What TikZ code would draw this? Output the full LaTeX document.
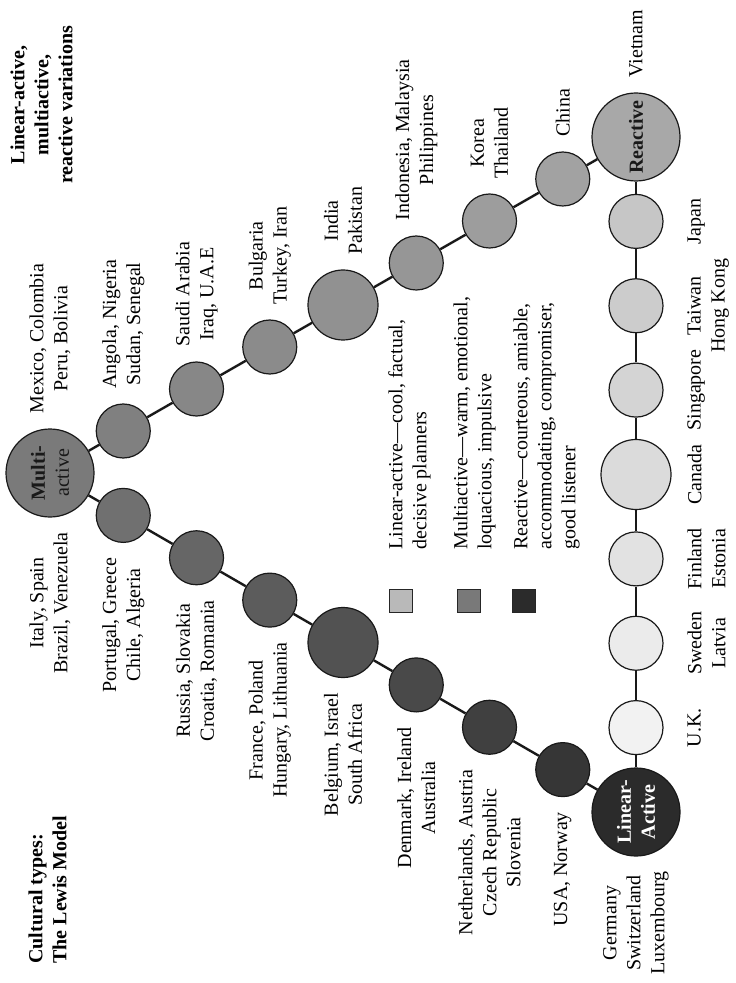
\documentclass[tikz,border=0pt]{standalone}
\usepackage{fontspec}
\setmainfont{Liberation Serif}
\tikzset{
  country/.style={
    circle, draw=black!90, line width=0.6pt,
    minimum size=27pt, inner sep=0pt
  },
  midcountry/.style={country, minimum size=35pt},
  hub/.style={
    country, minimum size=44pt, rotate=90,
    align=center, font=\bfseries, text=black!90
  },
  link/.style={line width=1.2pt, draw=black!90},
  upname/.style={rotate=90, anchor=west, align=center, inner sep=0pt},
  downname/.style={rotate=90, anchor=east, align=center, inner sep=0pt},
  sidename/.style={rotate=90, anchor=north, align=center, inner sep=0pt},
  keybox/.style={
    rectangle, draw=black!85, line width=0.5pt,
    minimum size=11.5pt, inner sep=0pt
  },
  keytext/.style={rotate=90, anchor=north west, align=left, inner sep=0pt},
  heading/.style={rotate=90, inner sep=0pt, font=\bfseries}
}

\begin{document}
\begin{tikzpicture}[x=0.5pt, y=-0.5pt]
  \useasboundingbox (0,0) rectangle (735,983);

  % the three types
  \node[hub, fill=black!52] (multi) at (50,473) {Multi-\\{\mdseries active}};
  \node[hub, fill=black!34] (react) at (636,137) {Reactive};
  \node[hub, fill=black!83, text=white] (linear) at (636,812) {Linear-\\Active};

  % multi-active to reactive
  \node[country, fill=black!50] (angola) at (123.25,431) {};
  \node[country, fill=black!47] (saudi) at (196.5,389) {};
  \node[country, fill=black!45.5] (bulgaria) at (269.75,347) {};
  \node[midcountry, fill=black!43] (india) at (343,305) {};
  \node[country, fill=black!41] (indonesia) at (416.25,263) {};
  \node[country, fill=black!38.5] (korea) at (489.5,221) {};
  \node[country, fill=black!36.5] (china) at (562.75,179) {};

  % multi-active to linear-active
  \node[country, fill=black!56] (portugal) at (123.25,515.4) {};
  \node[country, fill=black!60] (russia) at (196.5,557.75) {};
  \node[country, fill=black!64] (france) at (269.75,600.1) {};
  \node[midcountry, fill=black!68] (belgium) at (343,642.5) {};
  \node[country, fill=black!71.5] (denmark) at (416.25,684.9) {};
  \node[country, fill=black!75] (netherlands) at (489.5,727.25) {};
  \node[country, fill=black!79] (usa) at (562.75,769.6) {};

  % linear-active to reactive
  \node[country, fill=black!5] (uk) at (636,727.6) {};
  \node[country, fill=black!8] (sweden) at (636,643.25) {};
  \node[country, fill=black!11.5] (finland) at (636,558.9) {};
  \node[midcountry, fill=black!14] (canada) at (636,474.5) {};
  \node[country, fill=black!17] (singapore) at (636,390.1) {};
  \node[country, fill=black!20] (taiwan) at (636,305.75) {};
  \node[country, fill=black!22.5] (japan) at (636,221.4) {};

  \draw[link] (multi) -- (angola) (angola) -- (saudi) (saudi) -- (bulgaria)
    (bulgaria) -- (india) (india) -- (indonesia) (indonesia) -- (korea)
    (korea) -- (china) (china) -- (react);
  \draw[link] (multi) -- (portugal) (portugal) -- (russia) (russia) -- (france)
    (france) -- (belgium) (belgium) -- (denmark) (denmark) -- (netherlands)
    (netherlands) -- (usa) (usa) -- (linear);
  \draw[link] (linear) -- (uk) (uk) -- (sweden) (sweden) -- (finland)
    (finland) -- (canada) (canada) -- (singapore) (singapore) -- (taiwan)
    (taiwan) -- (japan) (japan) -- (react);

  % country names
  \node[upname] (mexico-l) at (50,414) {Mexico, Colombia\\Peru, Bolivia};
  \node[upname] (angola-l) at (123.25,389) {Angola, Nigeria\\Sudan, Senegal};
  \node[upname] (saudi-l) at (196.5,347) {Saudi Arabia\\Iraq, U.A.E};
  \node[upname] (bulgaria-l) at (269.75,305) {Bulgaria\\Turkey, Iran};
  \node[upname] (india-l) at (343,255) {India\\Pakistan};
  \node[upname] (indonesia-l) at (416.25,221) {Indonesia, Malaysia\\Philippines};
  \node[upname] (korea-l) at (489.5,179) {Korea\\Thailand};
  \node[upname] (china-l) at (562.75,137) {China};
  \node[upname] (vietnam-l) at (636,78) {Vietnam};

  \node[downname] (italy-l) at (50,532) {Italy, Spain\\Brazil, Venezuela};
  \node[downname] (portugal-l) at (123.25,557.4) {Portugal, Greece\\Chile, Algeria};
  \node[downname] (russia-l) at (196.5,599.75) {Russia, Slovakia\\Croatia, Romania};
  \node[downname] (france-l) at (269.75,642.1) {France, Poland\\Hungary, Lithuania};
  \node[downname] (belgium-l) at (343,692.5) {Belgium, Israel\\South Africa};
  \node[downname] (denmark-l) at (416.25,726.9) {Denmark, Ireland\\Australia};
  \node[downname] (netherlands-l) at (489.5,769.25) {Netherlands, Austria\\Czech Republic\\Slovenia};
  \node[downname] (usa-l) at (562.75,811.6) {USA, Norway};
  \node[downname] (germany-l) at (636,871) {Germany\\Switzerland\\Luxembourg};

  \node[sidename] (uk-l) at (687,727.6) {U.K.};
  \node[sidename] (sweden-l) at (687,643.25) {Sweden\\Latvia};
  \node[sidename] (finland-l) at (687,558.9) {Finland\\Estonia};
  \node[sidename] (canada-l) at (687,474.5) {Canada};
  \node[sidename] (singapore-l) at (687,390.1) {Singapore};
  \node[sidename] (taiwan-l) at (687,305.75) {Taiwan\\Hong Kong};
  \node[sidename] (japan-l) at (687,221.4) {Japan};

  % key
  \node[keybox, fill=black!27.5] (key-lin) at (400.5,600.5) {};
  \node[keytext] (key-lin-t) at (388,550) {Linear-active—cool, factual,\\decisive planners};
  \node[keybox, fill=black!52.5] (key-mul) at (469,600.5) {};
  \node[keytext] (key-mul-t) at (453,550) {Multiactive—warm, emotional,\\loquacious, impulsive};
  \node[keybox, fill=black!83] (key-rea) at (524,600.5) {};
  \node[keytext] (key-rea-t) at (513,550) {Reactive—courteous, amiable,\\accommodating, compromiser,\\good listener};

  % titles
  \node[heading, anchor=north, align=center] (title-var) at (10,105)
    {Linear-active,\\multiactive,\\reactive variations};
  \node[heading, anchor=north west, align=left] (title-lewis) at (28,964)
    {Cultural types:\\The Lewis Model};
\end{tikzpicture}
\end{document}
